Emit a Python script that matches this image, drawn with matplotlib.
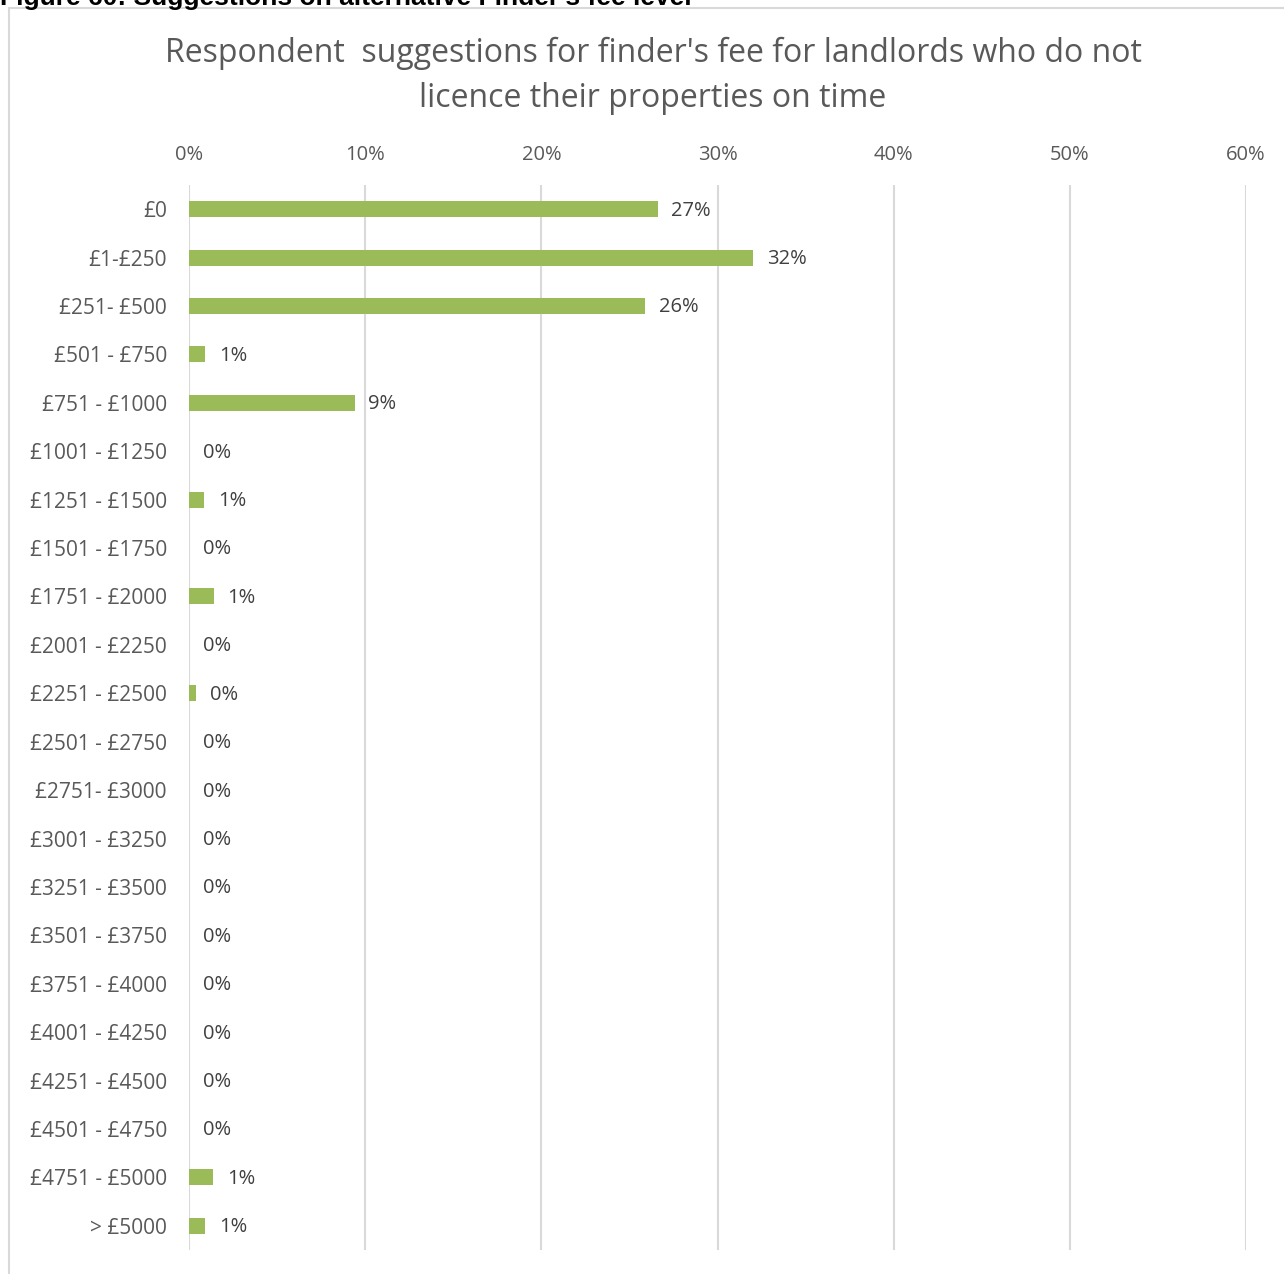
import matplotlib
matplotlib.use("Agg")
import matplotlib.pyplot as plt
from matplotlib.patches import Rectangle
from matplotlib.ticker import PercentFormatter

# --- data ---
categories = ["£0", "£1-£250", "£251- £500", "£501 - £750", "£751 - £1000",
              "£1001 - £1250", "£1251 - £1500", "£1501 - £1750", "£1751 - £2000",
              "£2001 - £2250", "£2251 - £2500", "£2501 - £2750", "£2751- £3000",
              "£3001 - £3250", "£3251 - £3500", "£3501 - £3750", "£3751 - £4000",
              "£4001 - £4250", "£4251 - £4500", "£4501 - £4750", "£4751 - £5000",
              "> £5000"]
shares = [0.266, 0.320, 0.259, 0.009, 0.094,
          0.0, 0.0085, 0.0, 0.014,
          0.0, 0.004, 0.0, 0.0,
          0.0, 0.0, 0.0, 0.0,
          0.0, 0.0, 0.0, 0.0136,
          0.009]
x_ticks = [0, 0.1, 0.2, 0.3, 0.4, 0.5, 0.6]

title = "Respondent  suggestions for finder's fee for landlords who do not\nlicence their properties on time"
header = "Figure 60: Suggestions on alternative Finder's fee level"

W, H = 1284, 1274
plt.rcParams['font.family'] = ['Open Sans', 'DejaVu Sans']
fig = plt.figure(figsize=(W / 100, H / 100), dpi=100)

# axes placed by pixel geometry of the reference
left, right, top, bottom = 189, 1246, 185, 1250
ax = fig.add_axes([left / W, 1 - bottom / H, (right - left) / W, (bottom - top) / H])

ypos = list(range(len(categories)))
ax.barh(ypos, shares, height=0.33, color='#9BBB59', zorder=3)

for y, v in zip(ypos, shares):
    ax.annotate(f"{round(v * 100):.0f}%", (v, y), xytext=(10, -1), textcoords='offset points',
                va='center', ha='left', fontsize=14.5, color='#404040')

ax.set_xlim(0, 0.6)
ax.set_ylim(len(categories) - 0.5, -0.5)
ax.set_xticks(x_ticks)
ax.xaxis.set_major_formatter(PercentFormatter(1.0, decimals=0))
ax.xaxis.tick_top()
ax.tick_params(axis='x', length=0, pad=14.5, labelsize=14.5, labelcolor='#595959')
ax.set_yticks(ypos)
ax.set_yticklabels(categories)
ax.tick_params(axis='y', length=0, pad=16, labelsize=15, labelcolor='#595959')
ax.grid(axis='x', color='#d9d9d9', linewidth=1.5, zorder=0)
ax.set_axisbelow(True)
for s in ax.spines.values():
    s.set_visible(False)

fig.text(653 / W, 1 - 76 / H, title, ha='center', va='center', fontsize=23,
         color='#595959', linespacing=1.5)

# chart frame and the cut-off document caption above it
fig.patches.append(Rectangle((9 / W, -0.05), 1.2, 1 - 8 / H + 0.05, transform=fig.transFigure,
                             fill=False, edgecolor='#d9d9d9', linewidth=1.5))
fig.text(0.0, 1 - 5 / H, header, ha='left', va='baseline', fontsize=19, fontweight='bold',
         family=['Liberation Sans', 'DejaVu Sans'], color='black')

fig.savefig("out.png", dpi=100)
